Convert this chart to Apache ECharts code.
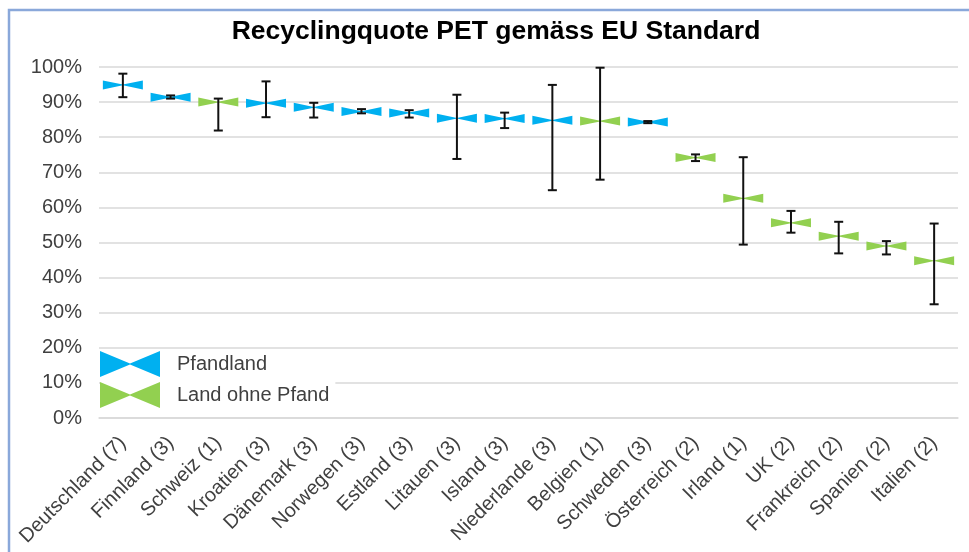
<!DOCTYPE html>
<html>
<head>
<meta charset="utf-8">
<style>
  html, body { margin: 0; padding: 0; background: #ffffff; }
  #chart { width: 969px; height: 552px; }
</style>
<script src="https://cdn.jsdelivr.net/npm/echarts@6/dist/echarts.min.js"></script>
</head>
<body>
<div id="chart"></div>
<script>
// Countries (number of sources in brackets)
const categories = [
  'Deutschland (7)', 'Finnland (3)', 'Schweiz (1)', 'Kroatien (3)', 'Dänemark (3)',
  'Norwegen (3)', 'Estland (3)', 'Litauen (3)', 'Island (3)', 'Niederlande (3)',
  'Belgien (1)', 'Schweden (3)', 'Österreich (2)', 'Irland (1)', 'UK (2)',
  'Frankreich (2)', 'Spanien (2)', 'Italien (2)'
];

// Recycling rate in percent (mean value)
const quote = [94.9, 91.4, 90.0, 89.7, 88.5, 87.3, 86.9, 85.4, 85.3, 84.8,
               84.6, 84.3, 74.2, 62.6, 55.6, 51.8, 49.0, 44.8];

// Range of the individual sources (lower / upper end)
const quoteMin = [91.4, 91.0, 81.9, 85.7, 85.6, 86.8, 85.6, 73.8, 82.6, 64.9,
                  67.9, 84.0, 73.2, 49.4, 52.8, 46.9, 46.6, 32.4];
const quoteMax = [98.1, 91.9, 91.0, 95.9, 89.8, 88.0, 87.7, 92.1, 87.0, 94.9,
                  99.8, 84.6, 75.1, 74.3, 59.0, 55.9, 50.4, 55.4];

// true = deposit system in place
const pfand = [true, true, false, true, true, true, true, true, true, true,
               false, true, false, false, false, false, false, false];

const yTicks = { min: 0, max: 100, interval: 10 };

const seriesNames = ['Pfandland', 'Land ohne Pfand'];
const colors = ['#00B0F0', '#92D050'];

// bow-tie marker: two triangles meeting in the middle
const bowtie = 'path://M0,0L20,4.6L40,0L40,10L20,5.4L0,10Z';
const bowtieLegend = 'path://M0,0L30,12.4L60,0L60,26L30,13.6L0,26Z';

const pointsPfand = [];
const pointsOhne = [];
quote.forEach((v, i) => {
  (pfand[i] ? pointsPfand : pointsOhne).push([i, v]);
});
const ranges = quote.map((v, i) => [i, quoteMin[i], quoteMax[i]]);

const chart = echarts.init(document.getElementById('chart'));

chart.setOption({
  backgroundColor: '#ffffff',
  animation: false,
  title: {
    text: 'Recyclingquote PET gemäss EU Standard',
    left: 491,
    textAlign: 'center',
    top: 13,
    textStyle: {
      fontFamily: 'Liberation Sans, Arial, sans-serif',
      fontSize: 26.5,
      fontWeight: 'bold',
      color: '#000000'
    }
  },
  graphic: [{
    type: 'rect',
    silent: true,
    shape: { x: 9, y: 10, width: 1100, height: 700 },
    style: { fill: 'none', stroke: '#8AA8DA', lineWidth: 2.5 }
  }],
  grid: { left: 99, right: 11, top: 67, bottom: 134 },
  legend: {
    orient: 'vertical',
    left: 100,
    top: 351,
    padding: [0, 6, 0, 0],
    itemWidth: 60,
    itemHeight: 26,
    itemGap: 5,
    backgroundColor: '#ffffff',
    data: [
      { name: seriesNames[0], icon: bowtieLegend },
      { name: seriesNames[1], icon: bowtieLegend }
    ],
    textStyle: {
      fontFamily: 'Liberation Sans, Arial, sans-serif',
      fontSize: 20,
      color: '#404040',
      padding: [0, 0, 0, 12]
    }
  },
  xAxis: {
    type: 'category',
    data: categories,
    axisLine: { show: true, lineStyle: { color: '#D9D9D9', width: 1.5 } },
    axisTick: { show: false },
    axisLabel: {
      interval: 0,
      rotate: 45,
      margin: 22,
      fontFamily: 'Liberation Sans, Arial, sans-serif',
      fontSize: 20,
      color: '#404040'
    }
  },
  yAxis: {
    type: 'value',
    min: yTicks.min,
    max: yTicks.max,
    interval: yTicks.interval,
    axisLine: { show: false },
    axisTick: { show: false },
    splitLine: { lineStyle: { color: '#D9D9D9', width: 1.5 } },
    axisLabel: {
      margin: 17,
      formatter: '{value}%',
      fontFamily: 'Liberation Sans, Arial, sans-serif',
      fontSize: 20,
      color: '#404040'
    }
  },
  series: [
    {
      name: seriesNames[0],
      type: 'scatter',
      data: pointsPfand,
      symbol: bowtie,
      symbolSize: [40, 9],
      itemStyle: { color: colors[0], opacity: 1 },
      z: 2
    },
    {
      name: seriesNames[1],
      type: 'scatter',
      data: pointsOhne,
      symbol: bowtie,
      symbolSize: [40, 9],
      itemStyle: { color: colors[1], opacity: 1 },
      z: 2
    },
    {
      name: 'Spannweite',
      type: 'custom',
      z: 3,
      data: ranges,
      encode: { x: 0, y: [1, 2] },
      renderItem: function (params, api) {
        const x = api.value(0);
        const lo = api.coord([x, api.value(1)]);
        const hi = api.coord([x, api.value(2)]);
        const cap = 4.5;
        const style = { stroke: '#111111', lineWidth: 2 };
        return {
          type: 'group',
          children: [
            { type: 'line', shape: { x1: lo[0], y1: lo[1], x2: hi[0], y2: hi[1] }, style: style },
            { type: 'line', shape: { x1: lo[0] - cap, y1: lo[1], x2: lo[0] + cap, y2: lo[1] }, style: style },
            { type: 'line', shape: { x1: hi[0] - cap, y1: hi[1], x2: hi[0] + cap, y2: hi[1] }, style: style }
          ]
        };
      }
    }
  ]
});
</script>
</body>
</html>
